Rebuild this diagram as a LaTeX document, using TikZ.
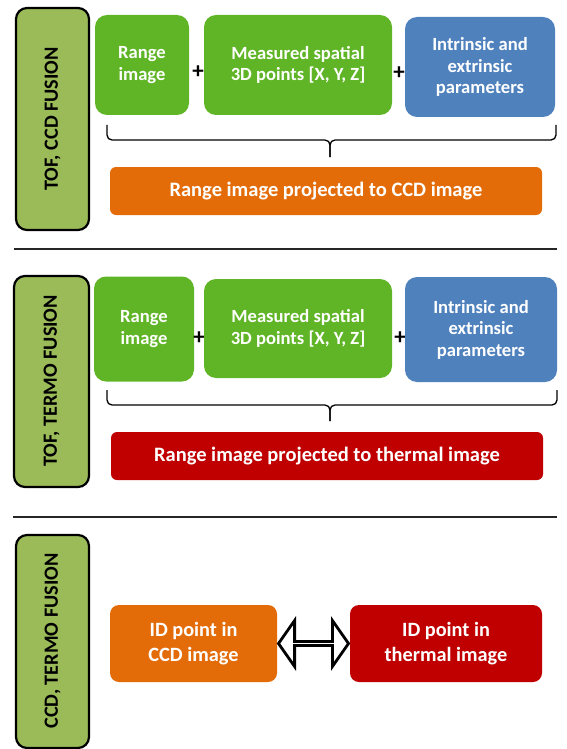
\documentclass[tikz,border=0pt]{standalone}
\usepackage{fontspec}
\setmainfont{Carlito}
\usetikzlibrary{shapes.arrows,calc}

\definecolor{leafgreen}{HTML}{5FB526}
\definecolor{olivegreen}{HTML}{9BBB59}
\definecolor{steelblue}{HTML}{4F81BD}
\definecolor{burntorange}{HTML}{E36C09}
\definecolor{darkred}{HTML}{C00000}

\tikzset{
  card/.style={rounded corners=12pt, text=white, font=\fontsize{18.6}{21.5}\selectfont\bfseries,
    align=center, inner sep=0pt},
  greencard/.style={card, fill=leafgreen},
  bluecard/.style={card, fill=steelblue},
  bar/.style={rounded corners=6pt, text=white, font=\fontsize{20.5}{24}\selectfont\bfseries,
    align=center, inner sep=0pt},
  idcard/.style={bar, font=\fontsize{20.3}{25}\selectfont\bfseries, rounded corners=9pt,
    minimum height=77pt},
  tag/.style={draw=black, line width=2.2pt, fill=olivegreen, rounded corners=11pt},
  tagtext/.style={rotate=90, font=\fontsize{20.2}{22}\selectfont\bfseries, text=black},
  plus/.style={font=\fontsize{23}{23}\selectfont\bfseries, text=black, inner sep=0pt},
  bracket/.style={line width=1.3pt, rounded corners=5pt},
  rule/.style={line width=1.4pt, draw=black!85},
}

\begin{document}
\begin{tikzpicture}[x=1pt, y=-1pt]
\useasboundingbox (0,0) rectangle (567,749);
\clip (0,0) rectangle (567,749);

% ---------- TOF / CCD fusion ----------
\fill[tag] (16,8) rectangle (89,230);
\node[tagtext] (tag1) at (52.5,119) {TOF,  CCD FUSION};

\node[greencard, minimum width=94pt, minimum height=100pt] (r1) at (142,65) {Range\\image};
\node[plus] (p1a) at (198,72) {+};
\node[greencard, minimum width=188pt, minimum height=100pt] (m1) at (298,65) {Measured spatial\\3D points [X, Y, Z]};
\node[plus] (p1b) at (399,73) {+};
\node[bluecard, minimum width=150pt, minimum height=100pt] (b1) at (480,67) {Intrinsic and\\extrinsic\\parameters};

\draw[bracket] (107,125) |- (330,140) -- (330,157);
\draw[bracket] (330,157) -- (330,140) -| (556,125);

\node[bar, fill=burntorange, minimum width=432pt, minimum height=48pt] (o1) at (326,191)
  {Range image projected to CCD image};

\draw[rule] (14,249) -- (557,249);

% ---------- TOF / thermal fusion ----------
\fill[tag] (14,276) rectangle (89,487);
\node[tagtext] (tag2) at (51.5,381) {TOF, TERMO FUSION};

\node[greencard, minimum width=100pt, minimum height=105pt] (r2) at (144,329) {Range\\image};
\node[plus] (p2a) at (199,338) {+};
\node[greencard, minimum width=188pt, minimum height=99pt] (m2) at (298,328.5) {Measured spatial\\3D points [X, Y, Z]};
\node[plus] (p2b) at (400,338) {+};
\node[bluecard, minimum width=152pt, minimum height=105pt] (b2) at (481,329.5) {Intrinsic and\\extrinsic\\parameters};

\draw[bracket] (107,390) |- (330,405) -- (330,421);
\draw[bracket] (330,421) -- (330,405) -| (557,390);

\node[bar, fill=darkred, minimum width=432pt, minimum height=48pt] (o2) at (327,456)
  {Range image projected to thermal image};

\draw[rule] (13,517) -- (557,517);

% ---------- CCD / thermal fusion ----------
\fill[tag] (16,535) rectangle (89,748);
\node[tagtext] (tag3) at (52.5,641) {CCD, TERMO FUSION};

\node[idcard, fill=burntorange, minimum width=167pt] (c3) at (193.5,643.5) {ID point in\\CCD image};
\node[idcard, fill=darkred, minimum width=192pt] (t3) at (446,643.5) {ID point in\\thermal image};

\node[double arrow, draw=black, fill=white, line width=2.8pt,
  minimum width=46pt, double arrow head extend=14pt, double arrow tip angle=110,
  minimum height=70pt, inner sep=0pt, anchor=center] (link) at ($(c3.east)!0.5!(t3.west)$) {};
\end{tikzpicture}
\end{document}
